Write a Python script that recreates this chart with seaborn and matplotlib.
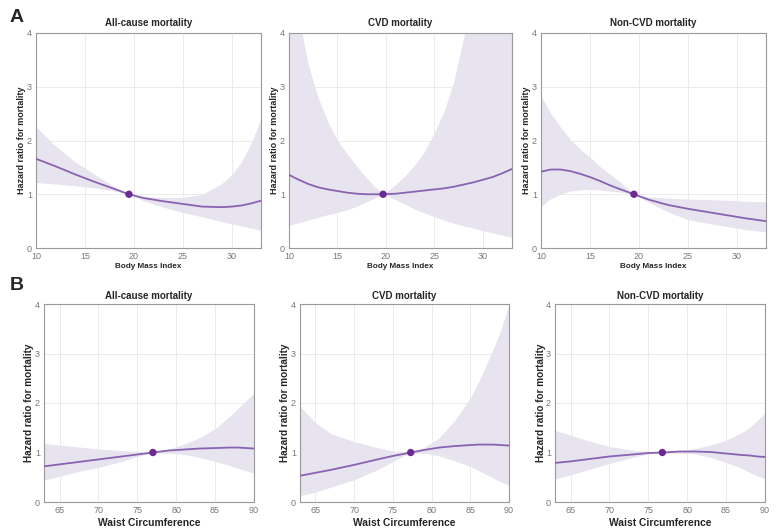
import numpy as np
import pandas as pd
import matplotlib
matplotlib.use("Agg")
import matplotlib.pyplot as plt
import seaborn as sns

# ---- data ----
# A: Body Mass Index
bmi_all_x = [10, 12, 14, 16, 18, 19.5, 21, 23, 25, 27, 29, 30, 31, 32, 33]
bmi_all_hr = [1.66, 1.52, 1.37, 1.23, 1.10, 1.0, 0.93, 0.87, 0.82, 0.77, 0.76, 0.77, 0.79, 0.83, 0.88]
bmi_all_hi = [2.25, 1.9, 1.6, 1.37, 1.14, 1.0, 0.96, 0.94, 0.94, 1.0, 1.2, 1.36, 1.6, 1.95, 2.4]
bmi_all_lo = [1.22, 1.19, 1.16, 1.12, 1.06, 1.0, 0.88, 0.76, 0.66, 0.58, 0.49, 0.45, 0.41, 0.37, 0.33]

bmi_cvd_x = [10, 11, 12, 13, 14, 15, 16, 17, 18, 19, 19.7, 21, 22, 23, 24, 25, 26, 27, 28, 29, 30, 31, 32, 33]
bmi_cvd_hr = [1.36, 1.27, 1.19, 1.13, 1.09, 1.06, 1.03, 1.01, 1.0, 1.0, 1.0, 1.01, 1.03, 1.05, 1.07, 1.09,
              1.11, 1.14, 1.18, 1.22, 1.27, 1.32, 1.39, 1.47]
bmi_cvd_hi = [5.5, 4.3, 3.4, 2.8, 2.35, 2.0, 1.75, 1.52, 1.3, 1.12, 1.0, 1.18, 1.35, 1.55, 1.8, 2.15,
              2.55, 3.1, 3.9, 4.8, 5.5, 6.5, 7.5, 8.5]
bmi_cvd_lo = [0.42, 0.47, 0.52, 0.57, 0.62, 0.66, 0.71, 0.78, 0.86, 0.94, 1.0, 0.9, 0.81, 0.72, 0.65, 0.58,
              0.52, 0.46, 0.41, 0.37, 0.32, 0.28, 0.24, 0.2]

bmi_non_x = [10, 11, 12, 13, 14, 15, 16, 17, 18, 19.5, 21, 23, 25, 27, 29, 31, 33]
bmi_non_hr = [1.42, 1.46, 1.46, 1.43, 1.38, 1.32, 1.25, 1.17, 1.10, 1.0, 0.9, 0.8, 0.73, 0.67, 0.61, 0.55, 0.5]
bmi_non_hi = [2.83, 2.5, 2.25, 2.02, 1.84, 1.69, 1.52, 1.38, 1.24, 1.0, 0.95, 0.93, 0.91, 0.9, 0.89, 0.87, 0.86]
bmi_non_lo = [0.77, 0.92, 1.0, 1.06, 1.08, 1.09, 1.08, 1.06, 1.04, 1.0, 0.85, 0.67, 0.53, 0.46, 0.4, 0.34, 0.3]

# B: Waist Circumference
wc_all_x = [63, 65, 67, 70, 73, 75, 77, 79, 81, 83, 85, 87, 88, 89, 90]
wc_all_hr = [0.72, 0.76, 0.8, 0.86, 0.92, 0.96, 1.0, 1.04, 1.06, 1.08, 1.09, 1.1, 1.1, 1.09, 1.08]
wc_all_hi = [1.18, 1.15, 1.12, 1.07, 1.04, 1.02, 1.0, 1.07, 1.17, 1.3, 1.48, 1.75, 1.9, 2.05, 2.2]
wc_all_lo = [0.44, 0.52, 0.6, 0.7, 0.82, 0.92, 1.0, 1.0, 0.96, 0.9, 0.82, 0.73, 0.68, 0.63, 0.58]

wc_cvd_x = [63, 65, 67, 70, 73, 75, 77.3, 79, 81, 83, 85, 86, 87, 88, 89, 90]
wc_cvd_hr = [0.53, 0.59, 0.65, 0.75, 0.86, 0.93, 1.0, 1.05, 1.1, 1.13, 1.15, 1.16, 1.16, 1.16, 1.15, 1.14]
wc_cvd_hi = [1.93, 1.6, 1.38, 1.22, 1.1, 1.03, 1.0, 1.1, 1.3, 1.65, 2.1, 2.4, 2.75, 3.1, 3.5, 4.0]
wc_cvd_lo = [0.13, 0.2, 0.3, 0.45, 0.65, 0.82, 1.0, 0.99, 0.93, 0.83, 0.72, 0.64, 0.56, 0.48, 0.4, 0.33]

wc_non_x = [63, 65, 67, 70, 73, 75, 76.8, 79, 81, 83, 85, 87, 88, 89, 90]
wc_non_hr = [0.79, 0.82, 0.86, 0.92, 0.96, 0.99, 1.0, 1.02, 1.02, 1.01, 0.98, 0.95, 0.94, 0.92, 0.91]
wc_non_hi = [1.45, 1.35, 1.25, 1.12, 1.05, 1.02, 1.0, 1.03, 1.08, 1.15, 1.25, 1.4, 1.5, 1.65, 1.8]
wc_non_lo = [0.46, 0.55, 0.64, 0.78, 0.9, 0.97, 1.0, 1.0, 0.97, 0.9, 0.8, 0.68, 0.6, 0.53, 0.47]

ref_points = {"bmi_all": 19.5, "bmi_cvd": 19.7, "bmi_non": 19.5,
              "wc_all": 77, "wc_cvd": 77.3, "wc_non": 76.8}

titles = ["All-cause mortality", "CVD mortality", "Non-CVD mortality"]
bmi_ticks = [10, 15, 20, 25, 30]
wc_ticks = [65, 70, 75, 80, 85, 90]
y_ticks = [0, 1, 2, 3, 4]

line_col = "#8a62b2"
dot_col = "#6c2a93"
band_col = "#e7e4f0"

sns.set_style("white")
plt.rcParams["font.family"] = ["Liberation Sans", "DejaVu Sans"]

fig = plt.figure(figsize=(7.83, 5.32), dpi=100)
W, H = 783, 532

def px_axes(l, r, t, b):
    return fig.add_axes([l / W, 1 - b / H, (r - l) / W, (b - t) / H])

panels = [
    # row A
    (px_axes(36, 261, 33, 248), bmi_all_x, bmi_all_hr, bmi_all_hi, bmi_all_lo, "bmi_all", "A"),
    (px_axes(289, 512, 33, 248), bmi_cvd_x, bmi_cvd_hr, bmi_cvd_hi, bmi_cvd_lo, "bmi_cvd", "A"),
    (px_axes(541, 766, 33, 248), bmi_non_x, bmi_non_hr, bmi_non_hi, bmi_non_lo, "bmi_non", "A"),
    # row B
    (px_axes(44, 254, 304, 502), wc_all_x, wc_all_hr, wc_all_hi, wc_all_lo, "wc_all", "B"),
    (px_axes(300, 509, 304, 502), wc_cvd_x, wc_cvd_hr, wc_cvd_hi, wc_cvd_lo, "wc_cvd", "B"),
    (px_axes(555, 765, 304, 502), wc_non_x, wc_non_hr, wc_non_hi, wc_non_lo, "wc_non", "B"),
]

for i, (ax, x, hr, hi, lo, key, row) in enumerate(panels):
    df = pd.DataFrame({"x": x, "hr": hr, "hi": hi, "lo": lo})
    ax.fill_between(df["x"], df["lo"], df["hi"], color=band_col, lw=0, zorder=1)
    sns.lineplot(data=df, x="x", y="hr", color=line_col, lw=1.3, ax=ax, zorder=3)
    sns.scatterplot(x=[ref_points[key]], y=[1.0], color=dot_col, s=28, edgecolor="none",
                    ax=ax, zorder=4)

    ax_w = ax.get_position().width * W
    ax.set_ylim(0, 4)
    ax.set_yticks(y_ticks)
    if row == "A":
        ax.set_xlim(10, 33)
        ax.set_xticks(bmi_ticks)
        ax.set_xlabel("Body Mass Index", fontsize=5.9, fontweight="bold", labelpad=1.5)
        ax.set_ylabel("Hazard ratio for mortality", fontsize=6.5, fontweight="bold")
        ax.yaxis.set_label_coords(-10 / ax_w, 0.5)
        ax.set_title(titles[i % 3], fontsize=7.0, fontweight="bold", pad=5)
    else:
        ax.set_xlim(63, 90)
        ax.set_xticks(wc_ticks)
        ax.set_xlabel("Waist Circumference", fontsize=7.4, fontweight="bold", labelpad=2)
        ax.set_ylabel("Hazard ratio for mortality", fontsize=7.2, fontweight="bold")
        ax.yaxis.set_label_coords(-9.5 / ax_w, 0.5)
        ax.set_title(titles[i % 3], fontsize=7.0, fontweight="bold", pad=3.5)

    ax.grid(True, color="#ebebeb", lw=0.7)
    ax.set_axisbelow(True)
    ax.tick_params(axis="both", labelsize=6.5, colors="#777777", length=2, width=0.6, pad=1)
    for s in ax.spines.values():
        s.set_color("#999999")
        s.set_linewidth(0.8)

fig.text(10 / W, 1 - 18 / H, "A", fontsize=14, fontweight="bold", va="center", ha="left")
fig.text(10 / W, 1 - 286 / H, "B", fontsize=14, fontweight="bold", va="center", ha="left")

fig.savefig("out.png", dpi=100)
